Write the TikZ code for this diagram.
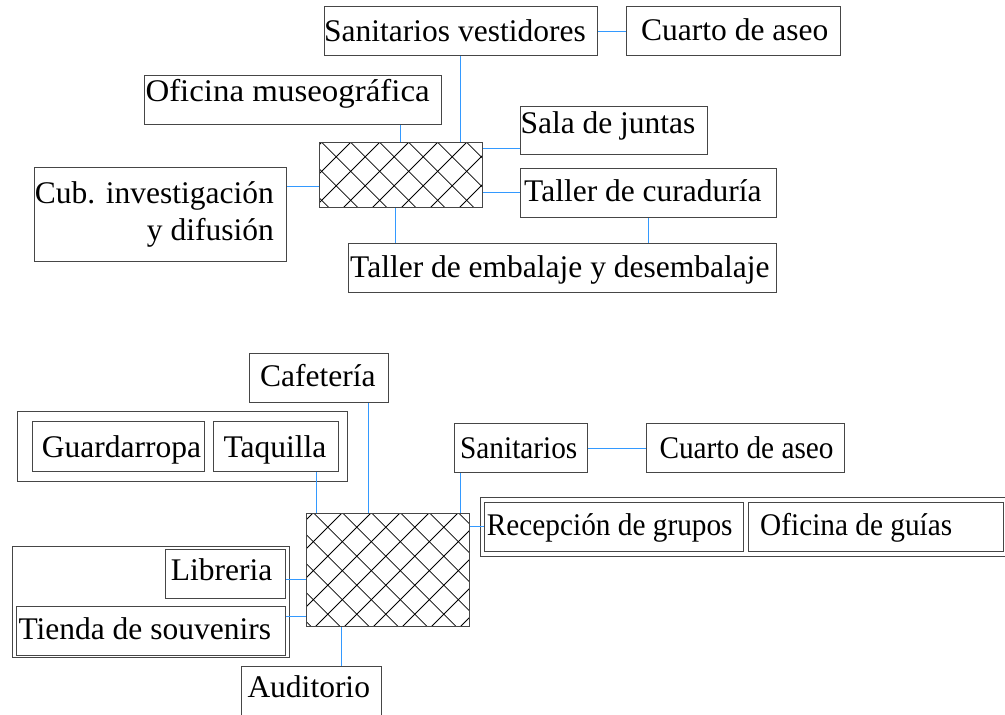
\documentclass[tikz,border=0pt]{standalone}
\usepackage{fontspec}
\setmainfont{Liberation Serif}
\definecolor{conn}{RGB}{51,153,255}
\definecolor{boxgray}{RGB}{70,70,70}
\tikzset{
  box/.style={draw=boxgray, line width=1pt, inner sep=0pt, anchor=north west},
  lbl/.style={inner sep=0pt, anchor=base west},
  link/.style={draw=conn, line width=1pt},
  hatchline/.style={draw=black, line width=0.8pt}
}
\newcommand{\narrow}[1]{\scalebox{0.93}[1]{#1}}
\newcommand{\widen}[1]{\scalebox{1.045}[1]{#1}}
\begin{document}
\begin{tikzpicture}[x=1pt,y=-1pt,font=\fontsize{31.5}{37.4}\selectfont]
\useasboundingbox (0,0) rectangle (1005,715);
\clip (0,0) rectangle (1005,715);
\fill[white] (0,0) rectangle (1005,715);

% ---------- top group ----------
\begin{scope}
\clip (319,142) rectangle (482,207);
\foreach \k in {-6,...,12}{
  \draw[hatchline] ({321.7+29*\k},142.3) -- ({321.7+29*\k+120},262.3);
  \draw[hatchline] ({321.7+29*\k},142.3) -- ({321.7+29*\k-120},262.3);
}
\end{scope}
\node[box, minimum width=163pt, minimum height=65pt] (h1) at (319,142) {};

\node[box, minimum width=273pt, minimum height=49pt] (sv) at (324,6) {};
\node[lbl] (svt) at (324,41) {Sanitarios vestidores};
\node[box, minimum width=214pt, minimum height=49pt] (ca1) at (626,6) {};
\node[lbl] (ca1t) at (641,40.7) {Cuarto de aseo};
\node[box, minimum width=297pt, minimum height=49pt] (om) at (144,75) {};
\node[lbl] (omt) at (145.3,101.7) {\widen{Oficina museográfica}};
\node[box, minimum width=252pt, minimum height=94pt] (cub) at (34,167) {};
\node[inner sep=0pt, anchor=base east, align=right] (cubt) at (274,240.7) {Cub. investigación\\y difusión};
\node[box, minimum width=428pt, minimum height=49pt] (tee) at (348,243) {};
\node[lbl] (teet) at (350,277.3) {Taller de embalaje y desembalaje};
\node[box, minimum width=187pt, minimum height=48pt] (sj) at (520,106) {};
\node[lbl] (sjt) at (520.3,133.3) {Sala de juntas};
\node[box, minimum width=256pt, minimum height=49pt] (tc) at (520,168) {};
\node[lbl] (tct) at (524,201.7) {Taller de curaduría};

\draw[link] (sv.east) -- (ca1.west);
\draw[link] (om.south -| 400.3,0) -- (h1.north -| 400.3,0);
\draw[link] (sv.south -| 460.3,0) -- (h1.north -| 460.3,0);
\draw[link] (cub.east |- 0,186) -- (h1.west |- 0,186);
\draw[link] (h1.south -| 395.7,0) -- (tee.north -| 395.7,0);
\draw[link] (h1.east |- 0,148.3) -- (sj.west |- 0,148.3);
\draw[link] (h1.east |- 0,192.3) -- (tc.west |- 0,192.3);
\draw[link] (tc.south -| 648.3,0) -- (tee.north -| 648.3,0);

% ---------- bottom group ----------
\begin{scope}
\clip (306,513) rectangle (469,626);
\foreach \k in {-6,...,16}{
  \draw[hatchline] ({313.3+29*\k},512.7) -- ({313.3+29*\k+150},662.7);
  \draw[hatchline] ({313.3+29*\k},512.7) -- ({313.3+29*\k-150},662.7);
}
\end{scope}
\node[box, minimum width=163pt, minimum height=113pt] (h2) at (306,513) {};

\node[box, minimum width=139pt, minimum height=49pt] (caf) at (249,353) {};
\node[lbl] (caft) at (260,386.7) {Cafetería};

\node[box, minimum width=330pt, minimum height=70pt] (gtg) at (17,411) {};
\node[box, minimum width=172pt, minimum height=50pt] (gu) at (32,421) {};
\node[lbl] (gut) at (41.7,457.3) {Guardarropa};
\node[box, minimum width=125pt, minimum height=50pt] (taq) at (213,421) {};
\node[lbl] (taqt) at (223.3,457.3) {Taquilla};

\node[box, minimum width=133pt, minimum height=49pt] (san) at (454,423) {};
\node[lbl] (sant) at (460,458.3) {\narrow{Sanitarios}};
\node[box, minimum width=198pt, minimum height=49pt] (ca2) at (646,423) {};
\node[lbl] (ca2t) at (659.3,458.3) {\narrow{Cuarto de aseo}};

\node[box, minimum width=540pt, minimum height=59pt] (rgg) at (480,497) {};
\node[box, minimum width=259pt, minimum height=49pt] (rec) at (484,502) {};
\node[lbl] (rect) at (486.7,535.7) {\narrow{Recepción de grupos}};
\node[box, minimum width=255pt, minimum height=49pt] (og) at (748,502) {};
\node[lbl] (ogt) at (760,535.7) {\narrow{Oficina de guías}};

\node[box, minimum width=277pt, minimum height=111pt] (ltg) at (12,546) {};
\node[box, minimum width=120pt, minimum height=49pt] (lib) at (165,549) {};
\node[lbl] (libt) at (170.7,580.7) {Libreria};
\node[box, minimum width=269pt, minimum height=49pt] (tie) at (16,606) {};
\node[lbl] (tiet) at (18.3,639.3) {Tienda de souvenirs};

\node[box, minimum width=140pt, minimum height=60pt] (aud) at (241,666) {};
\node[lbl] (audt) at (247.3,697.7) {Auditorio};

\draw[link] (caf.south -| 368.3,0) -- (h2.north -| 368.3,0);
\draw[link] (taq.south -| 316.3,0) -- (h2.north -| 316.3,0);
\draw[link] (san.south -| 460.7,0) -- (h2.north -| 460.7,0);
\draw[link] (san.east) -- (ca2.west);
\draw[link] (h2.east |- 0,526) -- (rec.west |- 0,526);
\draw[link] (lib.east |- 0,579.3) -- (h2.west |- 0,579.3);
\draw[link] (tie.east |- 0,616.7) -- (h2.west |- 0,616.7);
\draw[link] (h2.south -| 341.3,0) -- (aud.north -| 341.3,0);
\end{tikzpicture}
\end{document}
